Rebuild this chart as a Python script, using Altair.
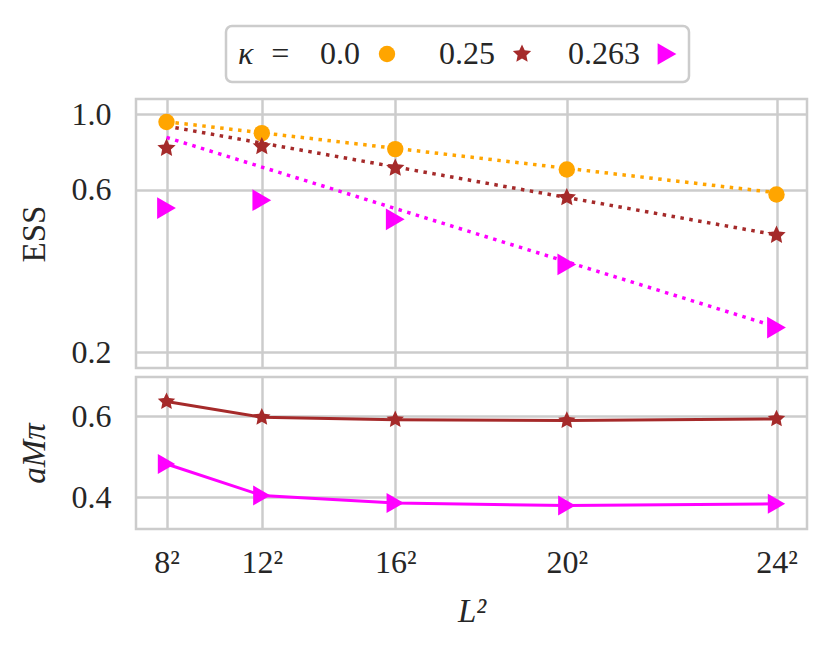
import altair as alt
import pandas as pd

# ---------------- data ----------------
L2 = [64, 144, 256, 400, 576]
L2_labels = ["8²", "12²", "16²", "20²", "24²"]
kappas = ["0.0", "0.25", "0.263"]

ess_k0 = [0.949, 0.880, 0.790, 0.688, 0.581]
ess_k025 = [0.795, 0.804, 0.695, 0.569, 0.441]
ess_k0263 = [0.530, 0.559, 0.491, 0.362, 0.236]

fit_L2 = [64, 576]
fit_k0 = [0.951, 0.588]
fit_k025 = [0.923, 0.442]
fit_k0263 = [0.855, 0.237]

mpi_kappas = ["0.25", "0.263"]
mpi_k025 = [0.637, 0.598, 0.592, 0.590, 0.594]
mpi_k0263 = [0.482, 0.404, 0.385, 0.379, 0.383]

ess_ticks = [0.2, 0.6, 1.0]
mpi_ticks = [0.4, 0.6]

# ---------------- tables ----------------
ess_df = pd.DataFrame(
    [{"L2": x, "ess": v, "kappa": k}
     for k, vals in zip(kappas, [ess_k0, ess_k025, ess_k0263])
     for x, v in zip(L2, vals)]
)
fit_df = pd.DataFrame(
    [{"L2": x, "ess": v, "kappa": k}
     for k, vals in zip(kappas, [fit_k0, fit_k025, fit_k0263])
     for x, v in zip(fit_L2, vals)]
)
mpi_df = pd.DataFrame(
    [{"L2": x, "mpi": v, "kappa": k}
     for k, vals in zip(mpi_kappas, [mpi_k025, mpi_k0263])
     for x, v in zip(L2, vals)]
)

# ---------------- style ----------------
FONT = "Liberation Serif"
TXT = "#262626"
GRID = "#cccccc"
colors = ["#FFA500", "#A52A2A", "#FF00FF"]
STAR = ("M0,-1L0.282,-0.388L0.951,-0.309L0.457,0.148L0.588,0.809L0,0.48"
        "L-0.588,0.809L-0.457,0.148L-0.951,-0.309L-0.282,-0.388Z")
shapes = ["circle", STAR, "triangle-right"]

color_scale = alt.Scale(domain=kappas, range=colors)
shape_scale = alt.Scale(domain=kappas, range=shapes)
xscale = alt.Scale(domain=[38.4, 601.6], nice=False, zero=False)

label_expr = " : ".join(
    f"datum.value == {v} ? '{lab}'" for v, lab in zip(L2, L2_labels)
) + " : ''"

leg = alt.Legend(
    title="κ\u00a0\u00a0=", orient="none", legendX=90, legendY=-73,
    direction="horizontal", titleOrient="left",
    titleFont=FONT, titleFontSize=32, titleFontStyle="italic",
    titleFontWeight="normal", titleColor=TXT, titlePadding=6,
    labelFont=FONT, labelFontSize=32, labelColor=TXT,
    labelAlign="right", labelOffset=alt.ExprRef(expr="-43"),
    symbolOffset=74, columnPadding=36,
    symbolSize=330, symbolStrokeWidth=0, symbolOpacity=1,
    fillColor="white", strokeColor=GRID, cornerRadius=6, padding=12,
)

x_top_axis = alt.Axis(values=L2, labels=False, title=None, grid=True)
x_bot_axis = alt.Axis(values=L2, labelExpr=label_expr, title="L²",
                      titleFontStyle="italic", labelPadding=18, titlePadding=17)
y_top_axis = alt.Axis(values=ess_ticks, format=".1f", title="ESS")
y_bot_axis = alt.Axis(values=mpi_ticks, format=".1f", title="aMπ",
                      titleFontStyle="italic")

ess_y = alt.Scale(type="log", domain=[0.1795, 1.109], nice=False)
mpi_y = alt.Scale(domain=[0.3206, 0.698], nice=False, zero=False)

top_fit = alt.Chart(fit_df).mark_line(
    strokeDash=[3.5, 5.5], strokeWidth=3.5
).encode(
    x=alt.X("L2:Q", scale=xscale, axis=x_top_axis),
    y=alt.Y("ess:Q", scale=ess_y, axis=y_top_axis),
    stroke=alt.Stroke("kappa:N", scale=color_scale, legend=None),
)
top_pts = alt.Chart(ess_df).mark_point(
    filled=True, opacity=1, strokeWidth=0
).encode(
    x=alt.X("L2:Q", scale=xscale, axis=x_top_axis),
    y=alt.Y("ess:Q", scale=ess_y, axis=y_top_axis),
    color=alt.Color("kappa:N", scale=color_scale, legend=leg),
    shape=alt.Shape("kappa:N", scale=shape_scale, legend=leg),
    size=alt.Size("kappa:N", scale=alt.Scale(domain=kappas, range=[270, 470, 340]),
                  legend=None),
)
top = alt.layer(top_fit, top_pts).properties(width=671, height=269)

bot_line = alt.Chart(mpi_df).mark_line(strokeWidth=3).encode(
    x=alt.X("L2:Q", scale=xscale, axis=x_bot_axis),
    y=alt.Y("mpi:Q", scale=mpi_y, axis=y_bot_axis),
    color=alt.Color("kappa:N", scale=color_scale, legend=None),
)
bot_pts = alt.Chart(mpi_df).mark_point(
    filled=True, opacity=1, strokeWidth=0
).encode(
    x=alt.X("L2:Q", scale=xscale, axis=x_bot_axis),
    y=alt.Y("mpi:Q", scale=mpi_y, axis=y_bot_axis),
    color=alt.Color("kappa:N", scale=color_scale, legend=None),
    shape=alt.Shape("kappa:N", scale=shape_scale, legend=None),
    size=alt.Size("kappa:N", scale=alt.Scale(domain=kappas, range=[270, 400, 520]),
                  legend=None),
)
bot = alt.layer(bot_line, bot_pts).properties(width=671, height=152)

chart = alt.vconcat(top, bot, spacing=5).resolve_legend(
    color="independent", shape="independent", size="independent"
).resolve_scale(size="independent").properties(
    padding={"left": 8, "top": 15, "right": 5, "bottom": 5},
    background="white",
).configure_view(
    stroke=GRID, strokeWidth=2.5
).configure_axis(
    grid=True, gridColor=GRID, gridWidth=2.5, domain=False, ticks=False,
    tickSize=0, labelFont=FONT, labelFontSize=32, labelColor=TXT,
    labelPadding=25, titleFont=FONT, titleFontSize=33, titleColor=TXT,
    titleFontWeight="normal", titlePadding=20,
).configure_legend(strokeWidth=2.5)

chart.save("out.html", embed_options={"renderer": "svg", "actions": False})
